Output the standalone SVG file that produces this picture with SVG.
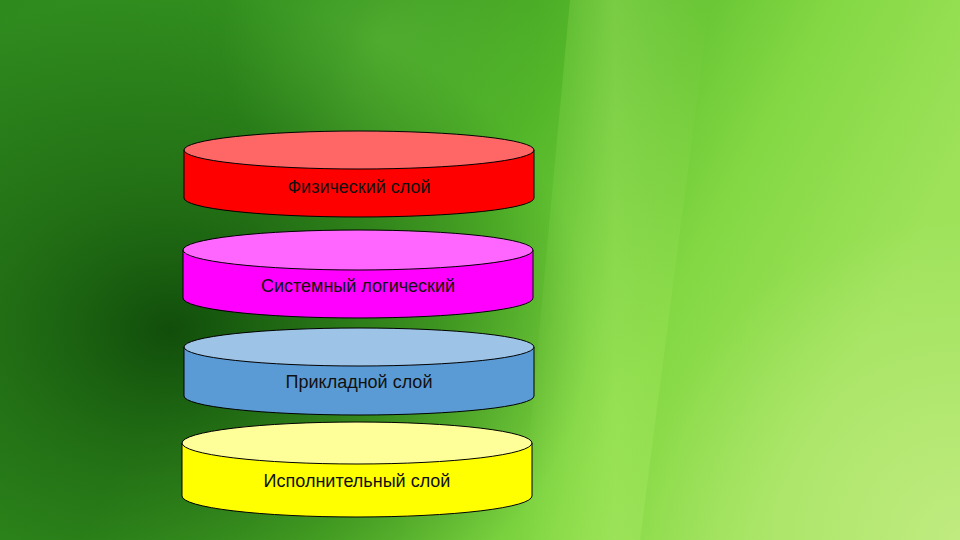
<svg xmlns="http://www.w3.org/2000/svg" width="960" height="540" viewBox="0 0 960 540">
<defs>
<linearGradient id="bg" x1="0" y1="0" x2="1" y2="0.3">
<stop offset="0" stop-color="#2f8a1e"/>
<stop offset="0.35" stop-color="#33921e"/>
<stop offset="0.58" stop-color="#55b82a"/>
<stop offset="0.8" stop-color="#84d844"/>
<stop offset="1" stop-color="#9ee25a"/>
</linearGradient>
<radialGradient id="dark" cx="170" cy="330" r="420" gradientTransform="translate(170 330) scale(1 0.8) translate(-170 -330)" gradientUnits="userSpaceOnUse">
<stop offset="0" stop-color="#0f4a0a" stop-opacity="0.95"/>
<stop offset="0.45" stop-color="#1a5e10" stop-opacity="0.6"/>
<stop offset="1" stop-color="#1a5e10" stop-opacity="0"/>
</radialGradient>
<radialGradient id="pale" cx="960" cy="540" r="320" gradientUnits="userSpaceOnUse">
<stop offset="0" stop-color="#c4ec84" stop-opacity="0.9"/>
<stop offset="1" stop-color="#c4ec84" stop-opacity="0"/>
</radialGradient>
<radialGradient id="glow" cx="380" cy="40" r="160" gradientUnits="userSpaceOnUse">
<stop offset="0" stop-color="#7ad04a" stop-opacity="0.35"/>
<stop offset="1" stop-color="#7ad04a" stop-opacity="0"/>
</radialGradient>
<linearGradient id="streak" x1="0" y1="0" x2="1" y2="0">
<stop offset="0" stop-color="#b8f070" stop-opacity="0"/>
<stop offset="0.5" stop-color="#b8f070" stop-opacity="0.35"/>
<stop offset="1" stop-color="#b8f070" stop-opacity="0"/>
</linearGradient>
<style>
.s{stroke:#000;stroke-width:1}
.t{font-family:"Liberation Sans",Arial,sans-serif;font-size:18px;fill:#111;text-anchor:middle}
</style>
</defs>
<rect width="960" height="540" fill="url(#bg)"/>
<rect width="960" height="540" fill="url(#dark)"/>
<rect width="960" height="540" fill="url(#glow)"/>
<polygon points="570,0 710,0 640,540 520,540" fill="url(#streak)"/>
<rect width="960" height="540" fill="url(#pale)"/>

<g id="node-fizicheskiy">
<path class="s" d="M184,150 L184,198 A175,19 0 0 0 534,198 L534,150 Z" fill="#ff0000"/>
<ellipse class="s" cx="359" cy="150" rx="175" ry="19" fill="#ff6666"/>
<text class="t" x="359" y="193">Физический слой</text>
</g>
<g id="node-sistemnyi">
<path class="s" d="M183,250 L183,298 A175,20 0 0 0 533,298 L533,250 Z" fill="#ff00ff"/>
<ellipse class="s" cx="358" cy="250" rx="175" ry="20" fill="#ff66ff"/>
<text class="t" x="358" y="292">Системный логический</text>
</g>
<g id="node-prikladnoy">
<path class="s" d="M184,347 L184,396 A175,19 0 0 0 534,396 L534,347 Z" fill="#5b9bd5"/>
<ellipse class="s" cx="359" cy="347" rx="175" ry="19" fill="#9dc3e6"/>
<text class="t" x="359" y="388">Прикладной слой</text>
</g>
<g id="node-ispolnitelnyi">
<path class="s" d="M182,443 L182,496 A175,21 0 0 0 532,496 L532,443 Z" fill="#ffff00"/>
<ellipse class="s" cx="357" cy="443" rx="175" ry="21" fill="#ffff99"/>
<text class="t" x="357" y="487">Исполнительный слой</text>
</g>
<g id="connectors"/>
</svg>
